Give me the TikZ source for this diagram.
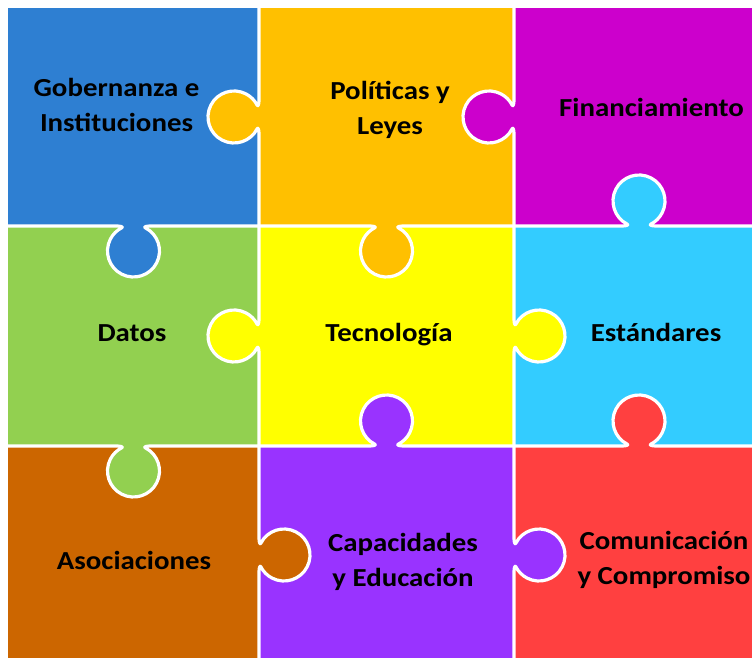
\documentclass[tikz,border=0pt]{standalone}
\usepackage{fontspec}
\setmainfont{Carlito}[FakeStretch=1.11]
\definecolor{pzblue}{HTML}{2E7FD2}
\definecolor{pzorange}{HTML}{FFC000}
\definecolor{pzmagenta}{HTML}{CC00CC}
\definecolor{pzgreen}{HTML}{92D050}
\definecolor{pzyellow}{HTML}{FFFF00}
\definecolor{pzcyan}{HTML}{33CCFF}
\definecolor{pzbrown}{HTML}{CC6600}
\definecolor{pzpurple}{HTML}{9933FF}
\definecolor{pzred}{HTML}{FF4040}
\newcommand\tabpath{(-17,0) .. controls (-13,0) and (-10,0.92) .. (-11.8,1.83) arc[start angle=243,end angle=-63,radius=26pt] .. controls (10,0.92) and (13,0) .. (17,0)}
\newcommand\puzzletab[5]{%
  \begin{scope}[shift={(#1,#2)},rotate=#3]
    \fill[#5] \tabpath -- cycle;
    \draw[seam] (-#4,0) -- \tabpath -- (#4,0);
  \end{scope}}
\tikzset{
  seam/.style={white, line width=3.2pt, line join=round},
  lbl/.style={font=\bfseries\fontsize{26}{35}\selectfont, align=center, inner sep=0pt, text=black}
}
\begin{document}
\begin{tikzpicture}[x=1pt,y=1pt]
\useasboundingbox (0,0) rectangle (752,658);
\fill[white] (0,0) rectangle (752,658);
\clip (0,0) rectangle (752,658);
% pieces
\fill[pzblue]    (8,432)  rectangle (259,650);
\fill[pzorange]  (259,432) rectangle (514,650);
\fill[pzmagenta] (514,432) rectangle (764,650);
\fill[pzgreen]   (8,212)  rectangle (259,432);
\fill[pzyellow]  (259,212) rectangle (514,432);
\fill[pzcyan]    (514,212) rectangle (764,432);
\fill[pzbrown]   (8,-6)   rectangle (259,212);
\fill[pzpurple]  (259,-6) rectangle (514,212);
\fill[pzred]     (514,-6) rectangle (764,212);
% vertical seams (bump left: 90, bump right: -90)
\puzzletab{259}{541}{90}{109}{pzorange}
\puzzletab{514}{541}{90}{109}{pzmagenta}
\puzzletab{259}{322}{90}{110}{pzyellow}
\puzzletab{514}{322}{-90}{110}{pzyellow}
\puzzletab{259}{103}{-90}{109}{pzbrown}
\puzzletab{514}{103}{-90}{109}{pzpurple}
% horizontal seams (bump up: 0, bump down: 180)
\puzzletab{133.5}{432}{180}{125.5}{pzblue}
\puzzletab{386.5}{432}{180}{127.5}{pzorange}
\puzzletab{639}{432}{0}{125}{pzcyan}
\puzzletab{133.5}{212}{180}{125.5}{pzgreen}
\puzzletab{386.5}{212}{0}{127.5}{pzpurple}
\puzzletab{639}{212}{0}{125}{pzred}
% labels
\node[lbl] (gob) at (116.5,550.5) {\strut Gobernanza e\\\strut Instituciones};
\node[lbl] (pol) at (390,547.5) {\strut Políticas y\\\strut Leyes};
\node[lbl] (fin) at (651.5,548) {\strut Financiamiento};
\node[lbl] (dat) at (132,323) {\strut Datos};
\node[lbl] (tec) at (389,323) {\strut Tecnología};
\node[lbl] (est) at (656,323) {\strut Estándares};
\node[lbl] (aso) at (134,95) {\strut Asociaciones};
\node[lbl] (cap) at (403,95.5) {\strut Capacidades\\\strut y Educación};
\node[lbl] (com) at (664,97.5) {\strut Comunicación\\\strut y Compromiso};
\end{tikzpicture}
\end{document}
